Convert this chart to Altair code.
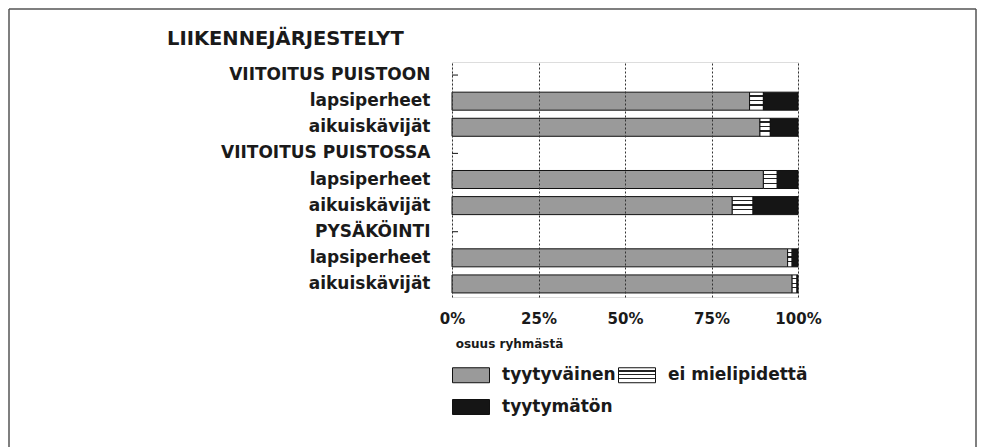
import json
import altair as alt
import pandas as pd

# ---- data ----
row_labels = [
    "VIITOITUS PUISTOON", "lapsiperheet", "aikuiskävijät",
    "VIITOITUS PUISTOSSA", "lapsiperheet", "aikuiskävijät",
    "PYSÄKÖINTI", "lapsiperheet", "aikuiskävijät",
]
header_rows = [0, 3, 6]
bar_rows = [1, 2, 4, 5, 7, 8]
categories = ["tyytyväinen", "ei mielipidettä", "tyytymätön"]
satisfied = [86, 89, 90, 81, 97, 98.3]
no_opinion = [4, 3, 4, 6, 1.3, 1.4]
dissatisfied = [10, 8, 6, 13, 1.7, 0.3]
x_ticks = [0, 25, 50, 75, 100]
chart_title = "LIIKENNEJÄRJESTELYT"
x_title = "osuus ryhmästä"

FONT = "DejaVu Sans"
INK = "#1a1a1a"

keys = [str(i) for i in range(len(row_labels))]
rows = []
for r, a, b, c in zip(bar_rows, satisfied, no_opinion, dissatisfied):
    for k, (cat, v) in enumerate(zip(categories, [a, b, c])):
        rows.append({"key": str(r), "cat": cat, "value": v, "order": k})
bars_df = pd.DataFrame(rows)
head_df = pd.DataFrame({"key": [str(i) for i in header_rows]})

label_expr = json.dumps(row_labels, ensure_ascii=False) + "[toNumber(datum.value)]"

stripes = "{gradient:'linear',x1:0,y1:0,x2:0,y2:1,stops:[" \
    "{offset:0,color:'#fff'},{offset:0.17,color:'#fff'},{offset:0.17,color:'#222'},{offset:0.25,color:'#222'}," \
    "{offset:0.25,color:'#fff'},{offset:0.42,color:'#fff'},{offset:0.42,color:'#222'},{offset:0.5,color:'#222'}," \
    "{offset:0.5,color:'#fff'},{offset:0.67,color:'#fff'},{offset:0.67,color:'#222'},{offset:0.75,color:'#222'}," \
    "{offset:0.75,color:'#fff'},{offset:1,color:'#fff'}]}"

y_scale = alt.Scale(domain=keys, paddingInner=0.31, paddingOuter=0.155)
y_axis = alt.Axis(
    title=None, domain=False, ticks=False, grid=False, labelPadding=22,
    labelExpr=label_expr, labelFont=FONT, labelFontSize=17, labelLimit=400,
    labelFontWeight="bold", labelColor=INK,
)
x_axis = alt.Axis(
    values=x_ticks, labelExpr="datum.value + '%'", ticks=False, domain=False,
    grid=True, gridDash=[2, 2], gridColor="#333", gridWidth=1, zindex=1,
    labelPadding=14, labelFont=FONT, labelFontSize=15, labelFontWeight="bold",
    labelColor=INK, labelFlush=False,
    title=x_title, titleFont=FONT, titleFontSize=12, titleFontWeight="bold",
    titleColor=INK, titleX=57, titleY=50, titleAlign="center",
    titleBaseline="alphabetic",
)

bars = alt.Chart(bars_df).mark_bar(stroke="#111", strokeWidth=1).encode(
    y=alt.Y("key:N", scale=y_scale, axis=y_axis),
    x=alt.X("sum(value):Q", scale=alt.Scale(domain=[0, 100]), stack="zero", axis=x_axis),
    color=alt.Color(
        "cat:N",
        scale=alt.Scale(domain=categories, range=["#9a9a9a", alt.ExprRef(stripes), "#151515"]),
        legend=alt.Legend(
            title=None, orient="none", legendX=0, legendY=294, direction="horizontal",
            columns=2, columnPadding=0, rowPadding=3, padding=0,
            symbolType="M-1,-0.405L1,-0.405L1,0.405L-1,0.405Z", symbolSize=1369,
            symbolStrokeColor="#111", symbolStrokeWidth=1, symbolOpacity=1,
            labelOffset=12, labelFont=FONT, labelFontSize=17, labelFontWeight="bold",
            labelColor=INK, labelLimit=300, gridAlign="each",
        ),
    ),
    order=alt.Order("order:Q", sort="ascending"),
)

head_ticks = alt.Chart(head_df).mark_rule(color="#111", strokeWidth=1).encode(
    y=alt.Y("key:N", scale=y_scale, axis=y_axis),
    x=alt.value(0),
    x2=alt.value(6),
)

title_df = pd.DataFrame({"t": [chart_title]})
title_mark = alt.Chart(title_df).mark_text(
    align="left", baseline="alphabetic", font=FONT, fontSize=19.5, fontWeight=600, color=INK
).encode(text="t:N", x=alt.value(-285), y=alt.value(-17))

frame_df = pd.DataFrame({"f": [0]})
frame_top = alt.Chart(frame_df).mark_rule(color="#555", strokeWidth=1.5).encode(
    x=alt.value(-443), x2=alt.value(524), y=alt.value(-53))
frame_left = alt.Chart(frame_df).mark_rule(color="#555", strokeWidth=1.5).encode(
    x=alt.value(-443), y=alt.value(-53), y2=alt.value(385))
frame_right = alt.Chart(frame_df).mark_rule(color="#555", strokeWidth=1.5).encode(
    x=alt.value(524), y=alt.value(-53), y2=alt.value(385))

chart = alt.layer(bars, head_ticks, title_mark, frame_top, frame_left, frame_right).properties(
    width=346, height=235, padding=0,
).configure_view(stroke="#222", strokeWidth=1.5).configure(background="white")

chart.save("out.html", embed_options={"renderer": "svg", "actions": False})
